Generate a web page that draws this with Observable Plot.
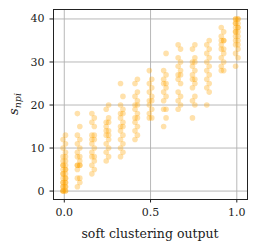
<!DOCTYPE html>
<html><head><meta charset="utf-8">
<script src="https://cdn.jsdelivr.net/npm/d3@7"></script>
<script src="https://cdn.jsdelivr.net/npm/@observablehq/plot@0.6"></script>
<style>body{margin:0;background:#fff;} svg{display:block;}</style>
</head><body><div id="chart"></div>
<script>
const colX = [0, 0.083, 0.167, 0.25, 0.333, 0.417, 0.5, 0.583, 0.667, 0.75, 0.833, 0.917, 1.0];
const colY = [
  [0,0,0,0,0,1,1,1,1,2,2,2,2,3,3,3,4,4,4,5,5,5,6,6,6,7,7,8,8,9,10,11,12,13],
  [1,2,3,3,5,6,6,6,6,7,8,8,9,10,11,12,13,15,18],
  [4,5,6,7,8,8,9,10,11,12,12,13,13,15,16,17,18],
  [7,8,9,10,11,12,13,13,14,14,15,16,16,17,19,20],
  [8,9,10,11,12,13,14,15,15,16,17,18,18,19,20,22,25],
  [12,13,14,15,16,17,17,18,19,20,20,21,22,23,25,26],
  [17,17,18,19,20,21,21,22,23,24,25,26,28],
  [15,17,19,19,21,22,23,24,25,25,26,27,28,32],
  [19,20,21,22,23,25,26,27,27,28,29,30,31,33,34],
  [17,20,21,22,24,25,26,26,27,28,29,30,30,31,33,34],
  [20,23,24,25,26,27,28,29,30,31,32,33,34,35],
  [28,28,29,30,31,32,33,33,34,35,35,35,36,37,38],
  [29,31,32,33,34,34,35,35,36,36,37,37,37,38,38,38,39,39,39,40,40,40,40]
];
const subOffset = [-0.007, 0.007];
const xTicks = [0, 0.5, 1];
const yTicks = [0, 10, 20, 30, 40];

const points = [];
colY.forEach((ys, c) => ys.forEach((y, i) => points.push({x: colX[c] + subOffset[i % 2], y})));

const font = "'DejaVu Serif', serif";
const svg = Plot.plot({
  width: 257, height: 250,
  marginLeft: 53, marginRight: 10, marginTop: 9, marginBottom: 51,
  style: {fontFamily: font, fontSize: "11px", color: "#222", background: "#fff"},
  x: {domain: [-0.0625, 1.062], ticks: xTicks, tickFormat: d3.format(".1f"), label: null, tickSize: 3.5, tickPadding: 4},
  y: {domain: [-1.96, 42.2], ticks: yTicks, label: null, tickSize: 3.5, tickPadding: 4},
  marks: [
    Plot.gridX(xTicks, {stroke: "#b0b0b0", strokeOpacity: 1, strokeWidth: 0.9}),
    Plot.gridY(yTicks, {stroke: "#b0b0b0", strokeOpacity: 1, strokeWidth: 0.9}),
    Plot.dot(points, {x: "x", y: "y", r: 2.8, fill: "orange", fillOpacity: 0.33, stroke: null}),
    Plot.axisX(xTicks, {tickFormat: d3.format(".1f"), tickSize: 3.5, fontSize: 11}),
    Plot.axisY(yTicks, {tickSize: 3.5, fontSize: 11}),
    Plot.frame({stroke: "#222", strokeWidth: 1})
  ]
});
const s = d3.select(svg);
s.append("text").attr("x", 150).attr("y", 238).attr("text-anchor", "middle")
  .attr("font-family", font).attr("font-size", 12.5).attr("fill", "#222").text("soft clustering output");
const yl = s.append("text").attr("transform", "translate(18,104) rotate(-90)").attr("text-anchor", "middle")
  .attr("font-family", font).attr("font-size", 13).attr("fill", "#222").attr("font-style", "italic");
yl.append("tspan").text("s");
yl.append("tspan").attr("dy", 3).attr("font-size", 9.5).text("npi");
document.getElementById("chart").appendChild(svg);
</script></body></html>
